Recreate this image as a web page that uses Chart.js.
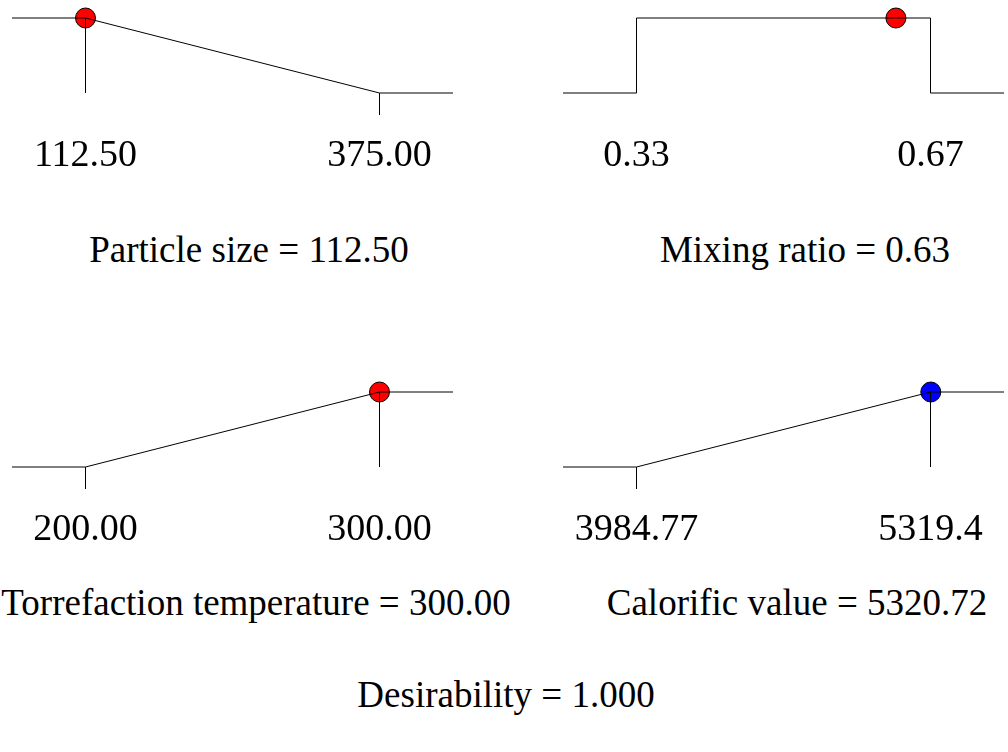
<!DOCTYPE html>
<html>
<head>
<meta charset="utf-8">
<title>Desirability ramps</title>
<script src="https://cdn.jsdelivr.net/npm/chart.js@4.4.1/dist/chart.umd.min.js"></script>
<style>
  html, body {
    margin: 0; padding: 0; background: #fff;
    width: 1008px; height: 752px; overflow: hidden; position: relative;
    font-family: "Liberation Serif", "Times New Roman", serif;
  }
  canvas { position: absolute; }
  .caption {
    position: absolute; font-size: 37px; line-height: 40px; height: 40px;
    white-space: nowrap; transform: translate(-50%, -50%); color: #000;
  }
</style>
</head>
<body>
<canvas id="ramp0"></canvas>
<canvas id="ramp1"></canvas>
<canvas id="ramp2"></canvas>
<canvas id="ramp3"></canvas>
<div class="caption" id="cap0"></div>
<div class="caption" id="cap1"></div>
<div class="caption" id="cap2"></div>
<div class="caption" id="cap3"></div>
<div class="caption" id="capD"></div>
<script>
// Optimisation settings: factors and response
const names         = ['Particle size', 'Mixing ratio', 'Torrefaction temperature', 'Calorific value'];
const goals         = ['minimize', 'range', 'maximize', 'maximize'];
const lowValues     = [112.50, 0.33, 200.00, 3984.77];
const highValues    = [375.00, 0.67, 300.00, 5319.4];
const lowLabels     = ['112.50', '0.33', '200.00', '3984.77'];
const highLabels    = ['375.00', '0.67', '300.00', '5319.4'];
const currentValues = [112.50, 0.63, 300.00, 5320.72];
const currentLabels = ['112.50', '0.63', '300.00', '5320.72'];
const pointColors   = ['#ff0000', '#ff0000', '#ff0000', '#0000ff'];
const desirability  = 1.000;

// Panel placement (canvas box) and caption anchor points
const panels = [
  { left: 0,   top: 6,   cap: [249, 250] },
  { left: 551, top: 6,   cap: [805, 250] },
  { left: 0,   top: 380, cap: [256, 603] },
  { left: 551, top: 380, cap: [797, 603] }
];
const PAD = 12, PLOT_W = 441, PLOT_H = 75, AXIS_H = 90, TICK_LEN = 22;
const FONT = '"Liberation Serif", "Times New Roman", serif';

// Desirability function for each goal, extended a quarter of the range beyond each limit
function rampPoints(goal, lo, hi) {
  const ext = (hi - lo) * 0.25, a = lo - ext, b = hi + ext;
  if (goal === 'minimize') return [{x: a, y: 1}, {x: lo, y: 1}, {x: hi, y: 0}, {x: b, y: 0}];
  if (goal === 'maximize') return [{x: a, y: 0}, {x: lo, y: 0}, {x: hi, y: 1}, {x: b, y: 1}];
  return [{x: a, y: 0}, {x: lo, y: 0}, {x: lo, y: 1}, {x: hi, y: 1}, {x: hi, y: 0}, {x: b, y: 0}];
}

// Desirability at the low (0) or high (1) limit
function valueAt(goal, end) {
  if (goal === 'minimize') return end === 0 ? 1 : 0;
  if (goal === 'maximize') return end === 0 ? 0 : 1;
  return 1;
}

names.forEach((name, i) => {
  const p = panels[i], goal = goals[i];
  const lo = lowValues[i], hi = highValues[i], ext = (hi - lo) * 0.25;
  const cv = document.getElementById('ramp' + i);
  cv.width = PLOT_W + 2 * PAD;
  cv.height = PAD + PLOT_H + AXIS_H;
  cv.style.left = p.left + 'px';
  cv.style.top = p.top + 'px';

  const lineStyle = { borderColor: '#000', borderWidth: 1, pointRadius: 0, showLine: true, tension: 0, clip: false };
  const datasets = [Object.assign({ data: rampPoints(goal, lo, hi) }, lineStyle)];
  // drop line from the fully desirable limit of a one-sided ramp
  if (goal !== 'range') {
    const top = valueAt(goal, 0) === 1 ? lo : hi;
    datasets.push(Object.assign({ data: [{x: top, y: 1}, {x: top, y: 0}] }, lineStyle));
  }
  datasets.push({
    data: [{x: currentValues[i], y: 1}], showLine: false, clip: false,
    pointRadius: 10, pointHoverRadius: 10, pointBorderWidth: 1,
    pointBackgroundColor: pointColors[i], pointBorderColor: '#000'
  });

  new Chart(cv, {
    type: 'scatter',
    data: { datasets },
    options: {
      responsive: false, animation: false, events: [],
      layout: { padding: { top: PAD, left: PAD, right: PAD, bottom: 0 } },
      plugins: { legend: { display: false }, tooltip: { enabled: false }, title: { display: false } },
      scales: {
        x: {
          type: 'linear', min: lo - ext, max: hi + ext,
          afterBuildTicks: s => { s.ticks = [{ value: lo }, { value: hi }]; },
          afterFit: s => { s.height = AXIS_H; s.paddingLeft = 0; s.paddingRight = 0; },
          border: { display: false },
          grid: {
            drawOnChartArea: false, drawTicks: true, tickLength: TICK_LEN, lineWidth: 1,
            // tick marks under the limit where a one-sided ramp reaches zero
            color: c => (goal !== 'range' && valueAt(goal, c.index) === 0) ? '#000' : 'rgba(0,0,0,0)'
          },
          ticks: {
            autoSkip: false, maxRotation: 0, minRotation: 0, padding: 18, color: '#000',
            font: { family: FONT, size: 38 },
            callback: (v, idx) => idx === 0 ? lowLabels[i] : highLabels[i]
          }
        },
        y: { type: 'linear', min: 0, max: 1, display: false }
      }
    }
  });

  const cap = document.getElementById('cap' + i);
  cap.textContent = name + ' = ' + currentLabels[i];
  cap.style.left = p.cap[0] + 'px';
  cap.style.top = p.cap[1] + 'px';
});

const capD = document.getElementById('capD');
capD.textContent = 'Desirability = ' + desirability.toFixed(3);
capD.style.left = '506px';
capD.style.top = '695px';
</script>
</body>
</html>
